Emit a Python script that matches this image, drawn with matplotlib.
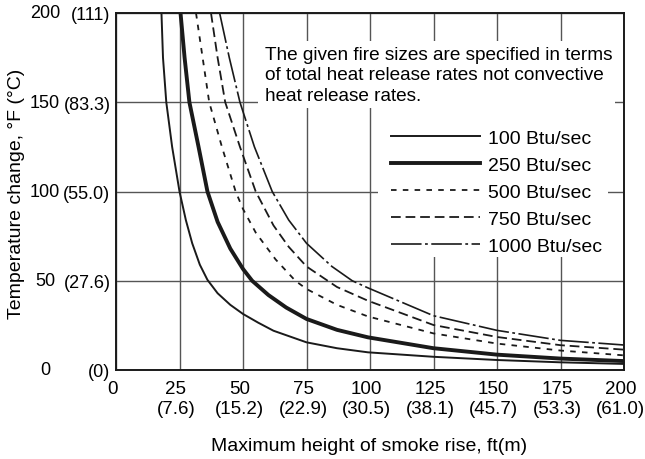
import matplotlib
matplotlib.use('Agg')
import matplotlib.pyplot as plt
from matplotlib.patches import Rectangle
from matplotlib.transforms import ScaledTranslation

plt.rcParams['font.family'] = ['Liberation Sans', 'DejaVu Sans']
plt.rcParams['lines.scale_dashes'] = False

# values (ft, deg F)
q100_x = [17.9, 18.5, 19.8, 22.1, 25.0, 27.5, 30.0, 33.0, 36.0, 40.0, 45.0, 50.0, 56.0, 62.0, 75.0, 87.0, 99.2, 125.0, 150.0, 175.0, 200.0]
q100_y = [200, 175, 150, 125, 100, 84, 71, 59, 50.5, 43, 36.5, 31.4, 26.5, 22.0, 15.5, 12.2, 9.9, 7.4, 5.6, 4.3, 3.4]

q250_x = [25.4, 27.0, 28.9, 32.5, 36.0, 40.0, 45.0, 50.0, 53.6, 60.0, 67.0, 75.0, 87.0, 99.2, 125.0, 150.0, 175.0, 200.0]
q250_y = [200, 175, 150, 125, 100, 83, 68, 56.6, 50, 42, 35, 28.6, 22.5, 18.3, 12.2, 8.6, 6.4, 5.0]

q500_x = [31.5, 34.1, 36.7, 41.7, 47.1, 50.0, 55.0, 62.8, 70.6, 75.0, 87.0, 99.2, 125.0, 150.0, 175.0, 200.0]
q500_y = [200, 175, 150, 125, 100, 90.2, 77, 62, 50, 45.4, 36.5, 30, 20.5, 14.8, 10.9, 8.2]

q750_x = [37.4, 40.0, 43.0, 48.8, 55.0, 62.0, 68.0, 75.0, 87.0, 99.2, 125.0, 150.0, 175.0, 200.0]
q750_y = [200, 175, 150, 125, 100, 81, 69, 58, 46.5, 38.8, 25.2, 18.5, 13.9, 11.4]

q1000_x = [40.8, 44.6, 48.8, 54.5, 61.5, 68.0, 75.0, 85.0, 93.0, 99.2, 125.0, 150.0, 175.0, 200.0]
q1000_y = [200, 175, 150, 125, 100, 84, 71, 58, 50, 46, 30.4, 22.2, 16.6, 14.0]

x_ticks = [0, 25, 50, 75, 100, 125, 150, 175, 200]
x_labels = ['0', '25\n(7.6)', '50\n(15.2)', '75\n(22.9)', '100\n(30.5)',
            '125\n(38.1)', '150\n(45.7)', '175\n(53.3)', '200\n(61.0)']
y_ticks = [0, 50, 100, 150, 200]
y_labels_f = ['0', '50', '100', '150', '200']
y_labels_c = ['(0)', '(27.6)', '(55.0)', '(83.3)', '(111)']

W, H = 645, 460
L, R, T, B = 116, 624, 14, 371
fs = 13.5

fig = plt.figure(figsize=(W / 100, H / 100), dpi=100)
ax = fig.add_axes([L / W, 1 - B / H, (R - L) / W, (B - T) / H])
ax.set_xlim(0, 200)
ax.set_ylim(0, 200)


def px2data(px, py):
    return (px - L) / (R - L) * 200, (B - py) / (B - T) * 200


ax.set_axisbelow(True)
ax.grid(True, color='#555555', lw=1.0)
for s in ax.spines.values():
    s.set_linewidth(1.4)
    s.set_color('#1a1a1a')

# white areas behind note and legend
for (x0, y0, x1, y1) in [(258, 42, 615, 109), (378, 109, 608, 258)]:
    dx0, dy1 = px2data(x0, y0)
    dx1, dy0 = px2data(x1, y1)
    ax.add_patch(Rectangle((dx0, dy0), dx1 - dx0, dy1 - dy0,
                           facecolor='white', edgecolor='none', zorder=1))

k = '#1a1a1a'
ax.plot(q100_x, q100_y, color=k, lw=1.4, label='100 Btu/sec')
ax.plot(q250_x, q250_y, color=k, lw=2.8, label='250 Btu/sec')
ax.plot(q500_x, q500_y, color=k, lw=1.3, dashes=(4, 4.5), label='500 Btu/sec')
ax.plot(q750_x, q750_y, color=k, lw=1.3, dashes=(7, 3.5), label='750 Btu/sec')
ax.plot(q1000_x, q1000_y, color=k, lw=1.2, dashes=(22, 2.5, 2, 2.5), label='1000 Btu/sec')

lx, ly = px2data(391, 130)
ax.legend(loc='upper left', bbox_to_anchor=(lx / 200, ly / 200), frameon=False,
          fontsize=14, borderpad=0, borderaxespad=0, handlelength=4.6,
          handletextpad=0.38, labelspacing=0.49)

tx, ty = px2data(265, 47)
ax.text(tx, ty, 'The given fire sizes are specified in terms\n'
        'of total heat release rates not convective\nheat release rates.',
        fontsize=13.7, va='top', ha='left', linespacing=1.26, zorder=3)

ax.set_xticks(x_ticks)
ax.set_xticklabels(x_labels, fontsize=fs, linespacing=1.25)
ax.set_yticks(y_ticks)
ax.set_yticklabels(y_labels_c, fontsize=13)
ax.tick_params(length=0)
ax.tick_params(axis='x', pad=7)
ax.tick_params(axis='y', pad=4)
shift = ScaledTranslation(-0.035, 0, fig.dpi_scale_trans)
for lab in ax.get_xticklabels():
    lab.set_transform(lab.get_transform() + shift)
for v, lab in zip(y_ticks, y_labels_f):
    ax.text((45 - L) / (R - L), v, lab, transform=ax.get_yaxis_transform(),
            ha='center', va='center', fontsize=13)

fig.text(17 / W, 1 - 194 / H, 'Temperature change, °F (°C)', rotation=90,
         ha='center', va='center', fontsize=14)
fig.text(369 / W, 1 - 447 / H, 'Maximum height of smoke rise, ft(m)',
         ha='center', va='center', fontsize=14)

fig.savefig('out.png', dpi=100)
